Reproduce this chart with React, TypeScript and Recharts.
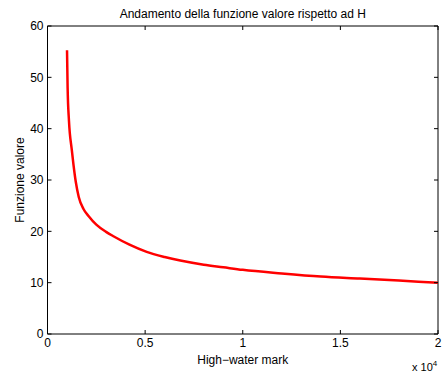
import React from 'react';
import { LineChart, Line, XAxis, YAxis, ReferenceLine } from 'recharts';

// Value function V(H) sampled along the high-water mark H
const highWaterMark = [
  1000, 1030, 1100, 1240, 1330, 1450, 1600, 1850, 2100, 2500, 3000, 3400,
  4200, 5080, 6000, 6800, 8000, 9000, 10000, 12000, 14000, 16000, 18000, 20000,
];
const funzioneValore = [
  55.3, 48, 41.5, 36.0, 33.0, 29.6, 26.7, 24.3, 23.0, 21.3, 19.9, 19.0,
  17.4, 16.0, 15.0, 14.3, 13.5, 13.0, 12.5, 11.8, 11.2, 10.8, 10.4, 10.0,
];
const xTicks = [0, 5000, 10000, 15000, 20000];
const yTicks = [0, 10, 20, 30, 40, 50, 60];

const titleText = 'Andamento della funzione valore rispetto ad H';
const xLabelText = 'High\u2212water mark';
const yLabelText = 'Funzione valore';

const data = highWaterMark.map((h, i) => ({ h, v: funzioneValore[i] }));

const W = 443;
const H = 373;
const M = { top: 26, right: 5, bottom: 0, left: 0.5 };
const X_AXIS_H = 39;
const Y_AXIS_W = 47;
const PLOT_W = W - M.left - M.right - Y_AXIS_W;
const PLOT_H = H - M.top - M.bottom - X_AXIS_H;
const FONT = '"Liberation Sans", Arial, Helvetica, sans-serif';
const FS = 12;
const TICK = 4;

const fmtX = (v: number) => String(v / 10000);

// Bottom ticks point inward; the matching top-edge marks are drawn with them
const BottomTick = (props: any) => {
  const { x, y, payload } = props;
  const top = y - PLOT_H;
  return (
    <g>
      <line x1={x} x2={x} y1={y} y2={y - TICK} stroke="#000" strokeWidth={1} />
      <line x1={x} x2={x} y1={top} y2={top + TICK} stroke="#000" strokeWidth={1} />
      <text x={x} y={y + 13} textAnchor="middle" fontFamily={FONT} fontSize={FS} fill="#000">
        {fmtX(payload.value)}
      </text>
    </g>
  );
};

// Left ticks point inward; the matching right-edge marks are drawn with them
const LeftTick = (props: any) => {
  const { x, y, payload } = props;
  const right = x + PLOT_W;
  return (
    <g>
      <line x1={x} x2={x + TICK} y1={y} y2={y} stroke="#000" strokeWidth={1} />
      <line x1={right} x2={right - TICK} y1={y} y2={y} stroke="#000" strokeWidth={1} />
      <text x={x - 4} y={y + 4.3} textAnchor="end" fontFamily={FONT} fontSize={FS} fill="#000">
        {payload.value}
      </text>
    </g>
  );
};

const XLabel = (props: any) => {
  const vb = props.viewBox;
  const cx = vb.x + vb.width / 2;
  return (
    <g>
      <text x={cx} y={vb.y + 30} textAnchor="middle" fontFamily={FONT} fontSize={FS} fill="#000">
        {xLabelText}
      </text>
      <text x={vb.x + vb.width - 26} y={vb.y + 37} fontFamily={FONT} fontSize={FS - 1} fill="#000">
        x 10
        <tspan dy={-5} fontSize={FS - 4}>4</tspan>
      </text>
      <text x={cx} y={18} textAnchor="middle" fontFamily={FONT} fontSize={FS} fill="#000">
        {titleText}
      </text>
    </g>
  );
};

const YLabel = () => (
  <text
    x={23.5}
    y={180}
    transform="rotate(-90 23.5 180)"
    textAnchor="middle"
    fontFamily={FONT}
    fontSize={FS}
    fill="#000"
  >
    {yLabelText}
  </text>
);

export default function App() {
  return (
    <div style={{ position: 'absolute', left: 0, top: 0, width: W, height: H, background: '#fff' }}>
      <LineChart width={W} height={H} data={data} margin={M}>
        <XAxis
          dataKey="h"
          type="number"
          domain={[0, 20000]}
          ticks={xTicks}
          allowDataOverflow
          height={X_AXIS_H}
          tickSize={0}
          tickMargin={0}
          tickLine={false}
          axisLine={{ stroke: '#000', strokeWidth: 1 }}
          tick={<BottomTick />}
          interval={0}
          label={<XLabel />}
        />
        <YAxis
          type="number"
          domain={[0, 60]}
          ticks={yTicks}
          allowDataOverflow
          width={Y_AXIS_W}
          tickSize={0}
          tickMargin={0}
          tickLine={false}
          axisLine={{ stroke: '#000', strokeWidth: 1 }}
          tick={<LeftTick />}
          interval={0}
          label={<YLabel />}
        />
        <ReferenceLine y={60} stroke="#000" strokeWidth={1} />
        <ReferenceLine x={20000} stroke="#000" strokeWidth={1} />
        <Line
          dataKey="v"
          type="monotone"
          stroke="#ff0000"
          strokeWidth={2.5}
          dot={false}
          activeDot={false}
          isAnimationActive={false}
        />
      </LineChart>
    </div>
  );
}
